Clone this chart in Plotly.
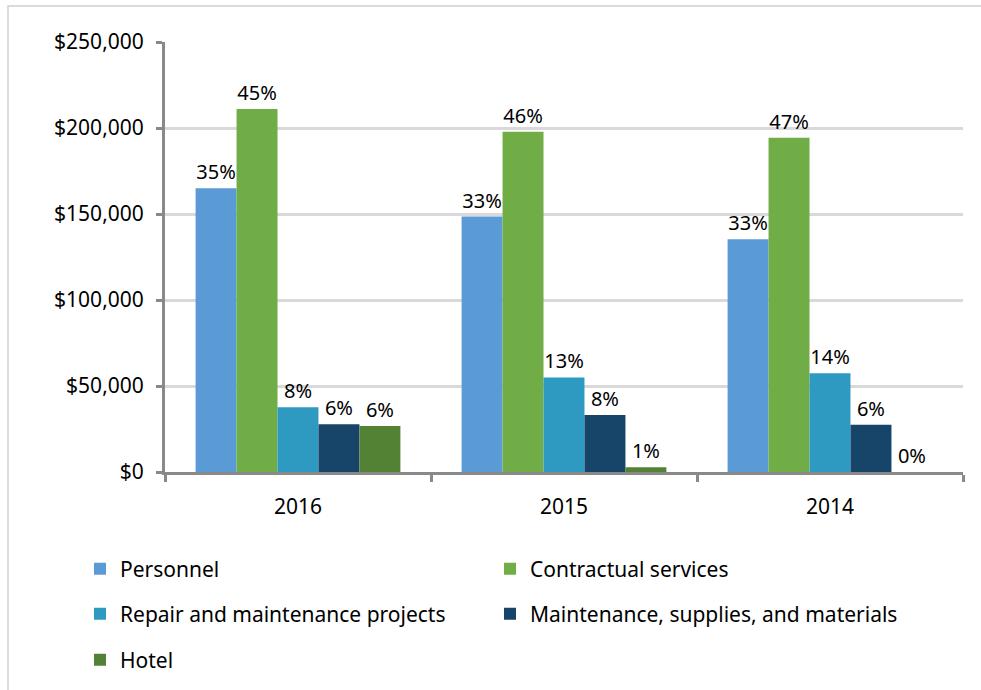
import plotly.graph_objects as go

categories = ["2016", "2015", "2014"]
series_names = ["Personnel", "Contractual services", "Repair and maintenance projects",
                "Maintenance, supplies, and materials", "Hotel"]
personnel = [165000, 148500, 135300]
contractual = [211000, 197800, 194400]
repair = [37600, 55000, 57400]
maintenance = [27700, 33100, 27500]
hotel = [26700, 2700, 0]
personnel_pct = ["35%", "33%", "33%"]
contractual_pct = ["45%", "46%", "47%"]
repair_pct = ["8%", "13%", "14%"]
maintenance_pct = ["6%", "8%", "6%"]
hotel_pct = ["6%", "1%", "0%"]
y_tick_vals = [0, 50000, 100000, 150000, 200000, 250000]
y_tick_text = ["$0", "$50,000", "$100,000", "$150,000", "$200,000", "$250,000"]

colors = ["#5b9bd5", "#70ad47", "#2e9ac1", "#17456a", "#548235"]
values = [personnel, contractual, repair, maintenance, hotel]
labels = [personnel_pct, contractual_pct, repair_pct, maintenance_pct, hotel_pct]
legend_ids = ["legend", "legend", "legend2", "legend2", "legend3"]

FONT = "Noto Sans"

fig = go.Figure()
for name, vals, txt, col, lg in zip(series_names, values, labels, colors, legend_ids):
    fig.add_trace(go.Bar(
        x=categories, y=vals, name=name, text=txt,
        textposition="outside", cliponaxis=False,
        textfont=dict(family=FONT, size=20, color="#000000"),
        marker=dict(color=col, line=dict(width=0)),
        legend=lg,
    ))

W, H = 981, 690
L, R, T, B = 165, 18, 42, 218
pw, ph = W - L - R, H - T - B

def px_x(p):
    return (p - L) / pw

def px_y(p):
    return (H - B - p) / ph

leg_common = dict(orientation="h", xanchor="left", yanchor="middle",
                  entrywidth=365, entrywidthmode="pixels",
                  font=dict(family=FONT, size=21, color="#000000"),
                  bgcolor="rgba(0,0,0,0)", traceorder="normal")

fig.update_layout(
    width=W, height=H,
    margin=dict(l=L, r=R, t=T, b=B, autoexpand=False),
    paper_bgcolor="white", plot_bgcolor="white",
    barmode="group", bargap=0.23, bargroupgap=0,
    font=dict(family=FONT, size=21, color="#000000"),
    legend=dict(x=px_x(80), y=px_y(569), **leg_common),
    legend2=dict(x=px_x(80), y=px_y(614), **leg_common),
    legend3=dict(x=px_x(80), y=px_y(660), **leg_common),
    xaxis=dict(
        type="category", showgrid=False, showline=True, linecolor="#898989", linewidth=3,
        ticks="outside", tickson="boundaries", ticklen=7, tickwidth=3, tickcolor="#898989",
        tickfont=dict(family=FONT, size=21, color="#000000"), ticklabelstandoff=14,
    ),
    yaxis=dict(
        range=[0, 250000], tickmode="array", tickvals=y_tick_vals, ticktext=y_tick_text,
        showgrid=True, gridcolor="#d9d9d9", gridwidth=3,
        showline=True, linecolor="#898989", linewidth=3, zeroline=False,
        ticks="outside", ticklen=6, tickwidth=3, tickcolor="#898989",
        tickfont=dict(family=FONT, size=21, color="#000000"), ticklabelstandoff=8,
    ),
    shapes=[dict(type="rect", xref="paper", yref="paper",
                 x0=px_x(8), x1=px_x(1000), y0=px_y(710), y1=px_y(6),
                 line=dict(color="#d0d0d0", width=1.5), fillcolor="rgba(0,0,0,0)", layer="below")],
)

fig.write_html("out.html",
               config={"displayModeBar": False},
               post_script="document.body.style.margin='0';document.body.style.overflow='hidden';")
